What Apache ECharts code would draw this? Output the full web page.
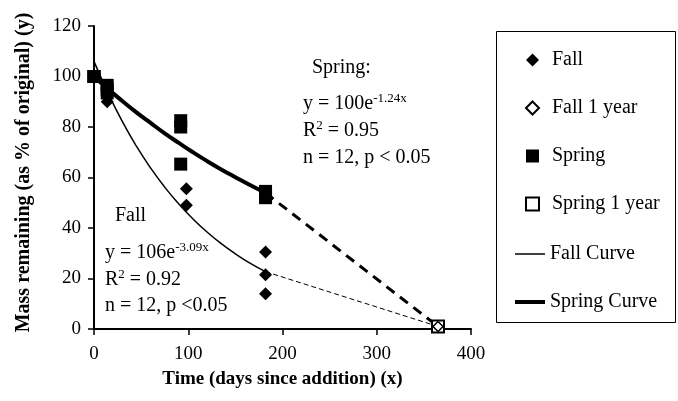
<!DOCTYPE html>
<html><head><meta charset="utf-8">
<script src="https://cdn.jsdelivr.net/npm/echarts@6/dist/echarts.min.js"></script>
<style>html,body{margin:0;padding:0;background:#fff}#c{width:678px;height:401px}</style>
</head><body><div id="c"></div>
<script>
// ---- data ----
const fallDays   = [0, 0, 0, 14, 14, 14, 98, 98, 182, 182, 182];
const fallMass   = [100, 100, 100, 90, 93, 95, 55.5, 49, 30.5, 21.5, 14];
const springDays = [0, 0, 0, 14, 14, 14, 92, 92, 92, 182, 182, 182];
const springMass = [100, 100, 100, 96.5, 95, 93.5, 82.5, 80, 65.3, 54.5, 52.5, 52];
const fall1yDays = [365];
const fall1yMass = [1];
const spring1yDays = [365];
const spring1yMass = [1];
// fitted curves
const curveDays       = [0, 15, 30, 45, 60, 75, 90, 105, 120, 135, 150, 165, 182];
const fallCurveMass   = [106, 93.4, 82.2, 72.4, 63.8, 56.2, 49.5, 43.6, 38.4, 33.8, 29.8, 26.2, 22.7];
const springCurveMass = [100, 95.0, 90.3, 85.8, 81.6, 77.5, 73.7, 70.0, 66.5, 63.2, 60.1, 57.1, 53.9];
// dashed extensions to the 1-year point
const extDays       = [182, 365];
const fallExtMass   = [22.7, 1];
const springExtMass = [53.9, 1];
const xTicks = [0, 100, 200, 300, 400];
const yTicks = [0, 20, 40, 60, 80, 100, 120];

const zip = (a, b) => a.map((v, i) => [v, b[i]]);
const FONT = 'Liberation Serif';

const chart = echarts.init(document.getElementById('c'), null, {renderer: 'canvas'});
const axisCommon = {
  axisLine: {show: true, onZero: false, lineStyle: {color: '#000', width: 2}},
  axisTick: {show: true, inside: false, length: 6, lineStyle: {color: '#000', width: 1.5}},
  splitLine: {show: false},
  axisLabel: {color: '#000', fontFamily: FONT, fontSize: 19},
  nameTextStyle: {color: '#000', fontFamily: FONT, fontSize: 19, fontWeight: 'bold'}
};
const supRich = {
  sup: {fontFamily: FONT, fontSize: 13, verticalAlign: 'top', lineHeight: 13, fill: '#000'},
  n: {fontFamily: FONT, fontSize: 20, lineHeight: 24, fill: '#000'}
};
function txt(x, y, text) {
  return {type: 'text', x: x, y: y, style: {text: text, rich: supRich, verticalAlign: 'middle', align: 'left', font: '20px ' + FONT, fill: '#000'}};
}
const legendText = {fontFamily: FONT, fontSize: 20, color: '#000'};
const option = {
  animation: false,
  backgroundColor: '#fff',
  grid: {left: 94, right: 207, top: 26, bottom: 72, containLabel: false},
  xAxis: Object.assign({}, axisCommon, {
    type: 'value', min: xTicks[0], max: xTicks[xTicks.length - 1], interval: 100,
    name: 'Time (days since addition) (x)', nameLocation: 'middle', nameGap: 41,
    axisLabel: Object.assign({}, axisCommon.axisLabel, {margin: 16})
  }),
  yAxis: Object.assign({}, axisCommon, {
    type: 'value', min: yTicks[0], max: yTicks[yTicks.length - 1], interval: 20,
    name: 'Mass remaining (as % of original) (y)', nameLocation: 'middle', nameGap: 60,
    nameTextStyle: Object.assign({}, axisCommon.nameTextStyle, {fontSize: 20, padding: [0, 0, 0, 10]}),
    axisLabel: Object.assign({}, axisCommon.axisLabel, {margin: 13})
  }),
  legend: [
    {orient: 'vertical', left: 520, top: 45, itemWidth: 13, itemHeight: 13, itemGap: 28,
     textStyle: Object.assign({padding: [0, 0, 0, 8]}, legendText),
     data: ['Fall', 'Fall 1 year', 'Spring', 'Spring 1 year']},
    {orient: 'vertical', left: 510, top: 239, itemWidth: 30, itemHeight: 1.5, icon: 'rect',
     lineStyle: {width: 1.5, color: '#000'}, itemStyle: {color: '#000'},
     textStyle: legendText, data: ['Fall Curve']},
    {orient: 'vertical', left: 510, top: 287, itemWidth: 30, itemHeight: 4, icon: 'rect',
     lineStyle: {width: 4, color: '#000'}, itemStyle: {color: '#000'},
     textStyle: legendText, data: ['Spring Curve']}
  ],
  graphic: [
    {type: 'rect', shape: {x: 496.5, y: 31.5, width: 179, height: 291}, style: {fill: 'none', stroke: '#000', lineWidth: 1}, z: 0},
    txt(312, 68, '{n|Spring:}'),
    txt(303, 104, '{n|y = 100e}{sup|-1.24x}'),
    txt(303, 131, '{n|R}{sup|2}{n| = 0.95}'),
    txt(303, 158, '{n|n = 12, p < 0.05}'),
    txt(115, 216, '{n|Fall}'),
    txt(105, 253, '{n|y = 106e}{sup|-3.09x}'),
    txt(105, 280, '{n|R}{sup|2}{n| = 0.92}'),
    txt(105, 306, '{n|n = 12, p <0.05}')
  ],
  series: [
    {name: 'Fall Curve', type: 'line', data: zip(curveDays, fallCurveMass), smooth: true, symbol: 'none',
     lineStyle: {color: '#000', width: 1.5}, itemStyle: {color: '#000'}, z: 3},
    {name: 'Spring Curve', type: 'line', data: zip(curveDays, springCurveMass), smooth: true, symbol: 'none',
     lineStyle: {color: '#000', width: 4}, itemStyle: {color: '#000'}, z: 3},
    {name: 'fallExt', type: 'line', data: zip(extDays, fallExtMass), symbol: 'none',
     lineStyle: {color: '#000', width: 1, type: [5, 3]}, z: 2},
    {name: 'springExt', type: 'line', data: zip(extDays, springExtMass), symbol: 'none',
     lineStyle: {color: '#000', width: 3, type: [10, 7]}, z: 2},
    {name: 'Fall', type: 'scatter', data: zip(fallDays, fallMass), symbol: 'diamond', symbolSize: 13,
     itemStyle: {color: '#000', opacity: 1}, z: 4},
    {name: 'Spring', type: 'scatter', data: zip(springDays, springMass), symbol: 'rect', symbolSize: 13,
     itemStyle: {color: '#000', opacity: 1}, z: 4},
    {name: 'Spring 1 year', type: 'scatter', data: zip(spring1yDays, spring1yMass), symbol: 'rect', symbolSize: 12,
     itemStyle: {color: '#fff', borderColor: '#000', borderWidth: 2, opacity: 1}, z: 5},
    {name: 'Fall 1 year', type: 'scatter', data: zip(fall1yDays, fall1yMass), symbol: 'diamond', symbolSize: 10,
     itemStyle: {color: '#fff', borderColor: '#000', borderWidth: 1.5, opacity: 1}, z: 6}
  ]
};
chart.setOption(option);
</script></body></html>
